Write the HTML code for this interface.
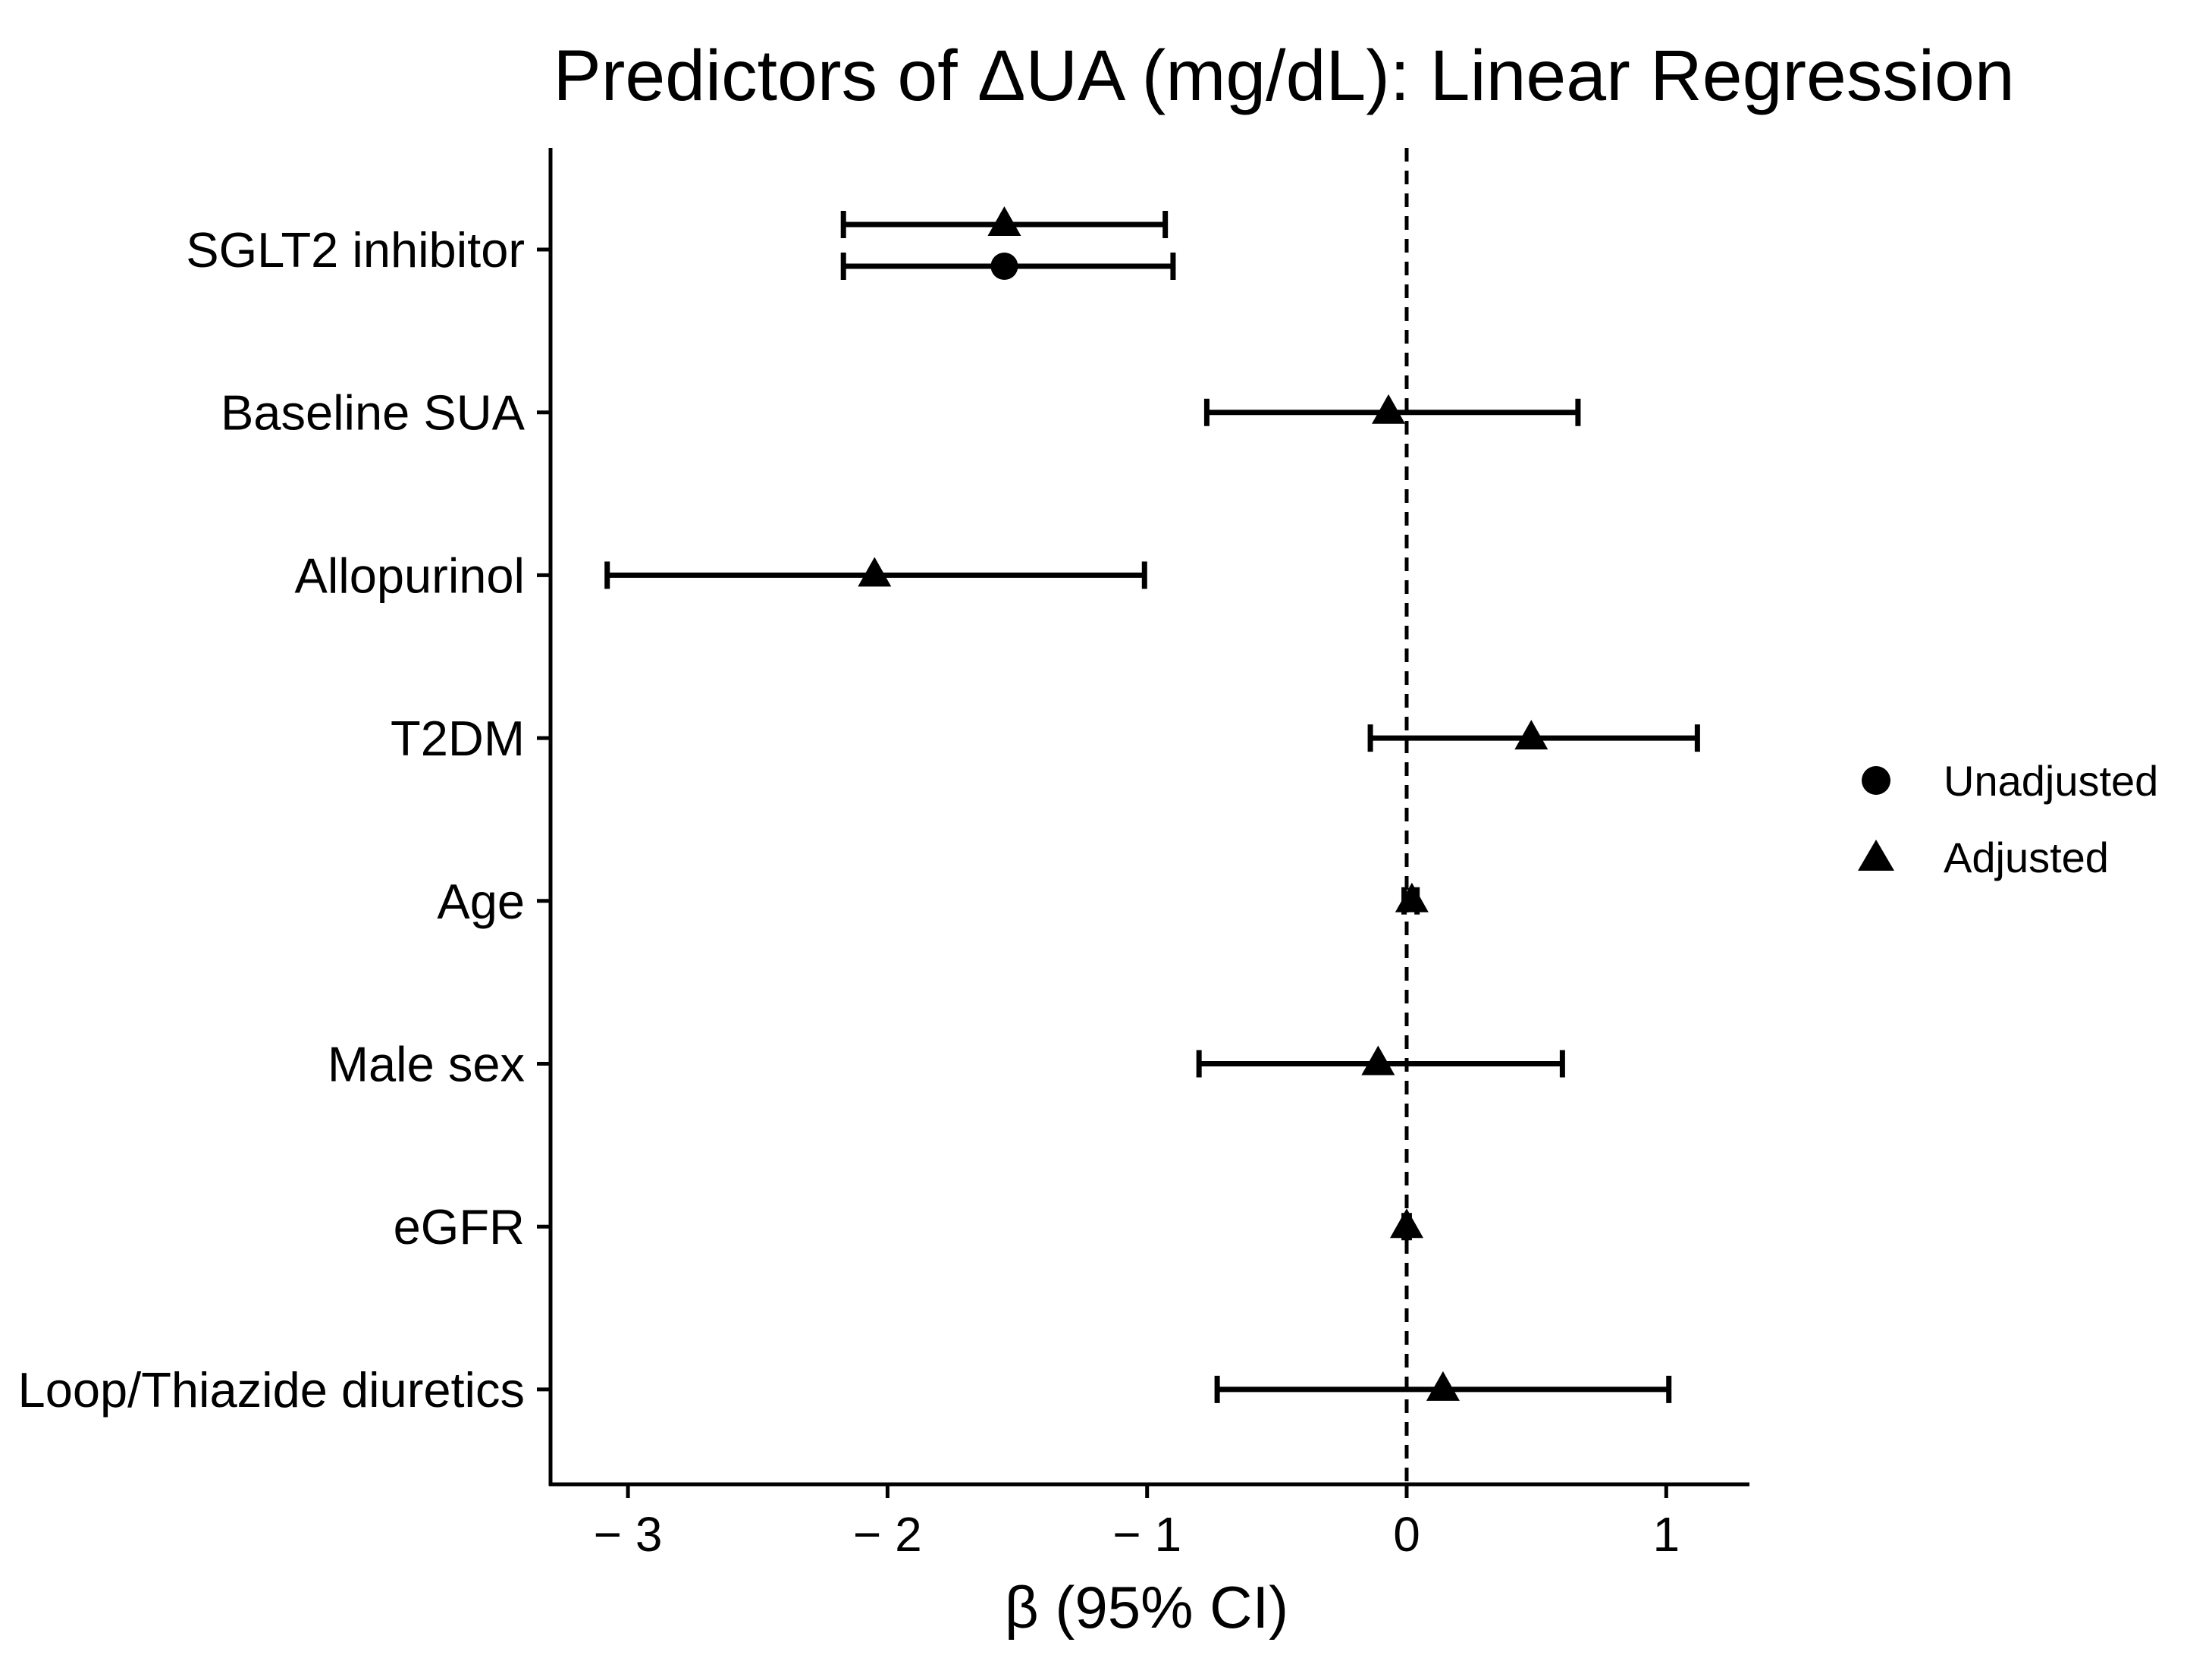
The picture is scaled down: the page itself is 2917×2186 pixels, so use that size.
<!DOCTYPE html>
<html><head><meta charset="utf-8">
<style>
html,body{margin:0;padding:0;background:#fff;}
svg{display:block;font-family:"Liberation Sans",sans-serif;}
</style></head>
<body>
<svg id="chart" width="2917" height="2186" viewBox="0 0 2917 2186" xmlns="http://www.w3.org/2000/svg">
<rect width="2917" height="2186" fill="#fff"/>
<text x="1693" y="132" font-size="95" text-anchor="middle" fill="#000">Predictors of ΔUA (mg/dL): Linear Regression</text>
<g id="plot"></g>
<line x1="726" y1="195" x2="726" y2="1959" stroke="#000" stroke-width="5"/>
<line x1="724" y1="1957" x2="2307" y2="1957" stroke="#000" stroke-width="5"/>
<text x="1512" y="2146" font-size="78" text-anchor="middle" fill="#000">β (95% CI)</text>
<g>
<circle cx="2474" cy="1029" r="19" fill="#000"/>
<text x="2563" y="1049" font-size="56" fill="#000">Unadjusted</text>
<polygon points="2474,1107 2498,1148 2450,1148" fill="#000"/>
<text x="2563" y="1150" font-size="56" fill="#000">Adjusted</text>
</g>
</svg>
<script>
const categories = ["SGLT2 inhibitor","Baseline SUA","Allopurinol","T2DM","Age","Male sex","eGFR","Loop/Thiazide diuretics"];
const adjEst = [-1.55,-0.07,-2.05,0.48,0.02,-0.11,0.00,0.14];
const adjLow = [-2.17,-0.77,-3.08,-0.14,-0.01,-0.80,-0.01,-0.73];
const adjHigh = [-0.93,0.66,-1.01,1.12,0.04,0.60,0.01,1.01];
const unadjCats = ["SGLT2 inhibitor"];
const unadjEst = [-1.55];
const unadjLow = [-2.17];
const unadjHigh = [-0.90];
const xTicks = [-3,-2,-1,0,1];
const xTickLabels = ["\u2212 3","\u2212 2","\u2212 1","0","1"];

const NS="http://www.w3.org/2000/svg";
const g=document.getElementById("plot");
function xs(v){return 1855+v*342.3;}
function ys(i){return 329+i*214.7;}
function mk(tag,attrs){const e=document.createElementNS(NS,tag);for(const k in attrs)e.setAttribute(k,attrs[k]);g.appendChild(e);return e;}

const z=mk("line",{x1:xs(0),x2:xs(0),y1:195,y2:1957,stroke:"#000","stroke-width":5,"stroke-dasharray":"18,12"});



xTicks.forEach((t,i)=>{
  const l=mk("line",{x1:xs(t),x2:xs(t),y1:1957,y2:1975,stroke:"#000","stroke-width":5});
  
  
  const tx=mk("text",{x:xs(t),y:2045,"font-size":64,"text-anchor":"middle",fill:"#000"});
  tx.textContent=xTickLabels[i];
  
  
});
categories.forEach((c,i)=>{
  const l=mk("line",{x1:708,x2:726,y1:ys(i),y2:ys(i),stroke:"#000","stroke-width":5});
  
  
  const tx=mk("text",{x:692,y:ys(i)+23,"font-size":65,"text-anchor":"end",fill:"#000"});
  tx.textContent=c;
  
  
});
function bar(y,lo,hi,name){
  const h=mk("line",{x1:xs(lo),x2:xs(hi),y1:y,y2:y,stroke:"#000","stroke-width":7});
  
  
  [lo,hi].forEach(v=>{
    const cap=mk("line",{x1:xs(v),x2:xs(v),y1:y-18,y2:y+18,stroke:"#000","stroke-width":7});
    
    
  });
}
categories.forEach((c,i)=>{
  const hasU=unadjCats.indexOf(c);
  const y=hasU>=0?ys(i)-33:ys(i);
  bar(y,adjLow[i],adjHigh[i],'adjusted-ci');
  const x=xs(adjEst[i]);
  const p=mk("polygon",{points:`${x},${y-24} ${x+22},${y+15} ${x-22},${y+15}`,fill:"#000"});
  
  
  if(hasU>=0){
    const yu=ys(i)+22;
    bar(yu,unadjLow[hasU],unadjHigh[hasU],'unadjusted-ci');
    const ci=mk("circle",{cx:xs(unadjEst[hasU]),cy:yu,r:18,fill:"#000"});
    
    
  }
});
</script>
</body></html>
